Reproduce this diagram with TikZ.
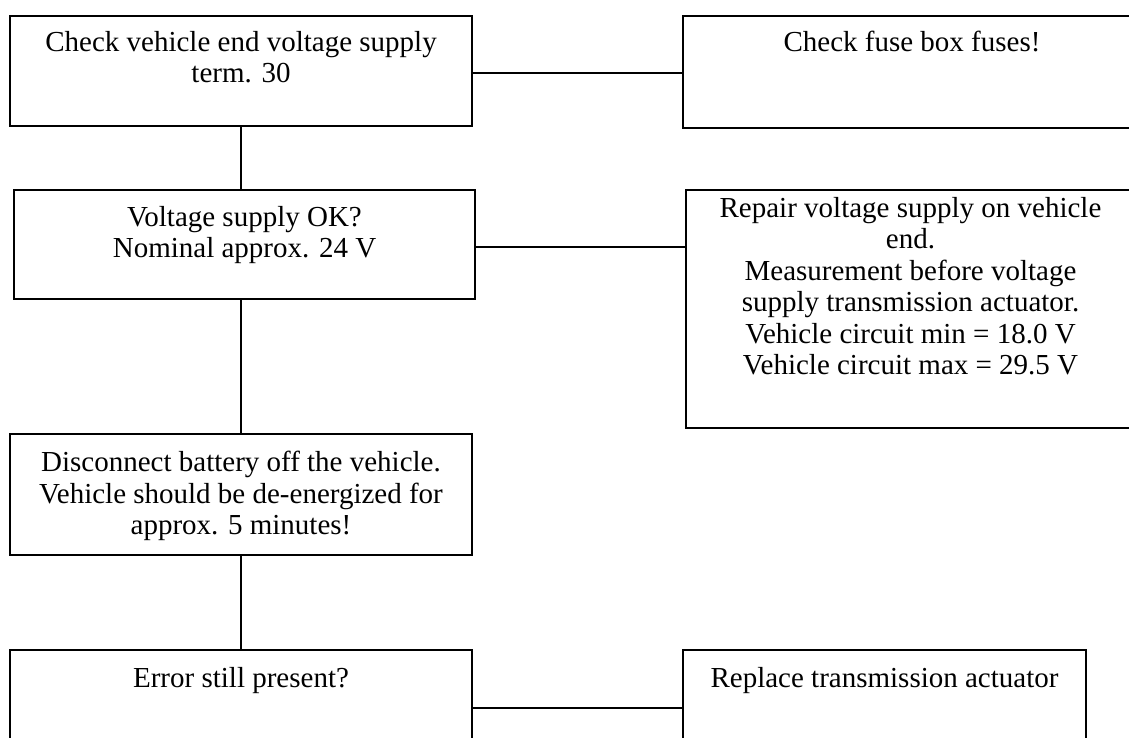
\documentclass[tikz,border=0pt]{standalone}
\usepackage{fontspec}
\setmainfont{Liberation Serif}
\begin{document}
\begin{tikzpicture}[x=1pt,y=-1pt,
  box/.style={draw=black, line width=2pt, rectangle, inner sep=0pt, anchor=north west},
  txt/.style={anchor=north, inner sep=0pt, align=center, font=\fontsize{29}{31.5}\selectfont},
  link/.style={draw=black, line width=1.6pt}]
\useasboundingbox (0,0) rectangle (1129,738);
\clip (0,0) rectangle (1129,738);
% boxes
\node[box, minimum width=462pt, minimum height=110pt] (b1) at (9,15) {};
\node[box, minimum width=458pt, minimum height=112pt] (b2) at (682,15) {};
\node[box, minimum width=461pt, minimum height=109pt] (b3) at (13,189) {};
\node[box, minimum width=449pt, minimum height=238pt] (b4) at (685,189) {};
\node[box, minimum width=462pt, minimum height=121pt] (b5) at (9,433) {};
\node[box, minimum width=462pt, minimum height=116pt] (b6) at (9,649) {};
\node[box, minimum width=403pt, minimum height=116pt] (b7) at (682,649) {};
% texts
\node[txt] (t1) at ([yshift=-16pt]b1.north) {Check vehicle end voltage supply\\term. 30};
\node[txt] (t2) at ([yshift=-16pt]b2.north) {Check fuse box fuses!};
\node[txt] (t3) at ([yshift=-17pt]b3.north) {Voltage supply OK?\\Nominal approx. 24 V};
\node[txt] (t4) at ([yshift=-8pt]b4.north) {Repair voltage supply on vehicle\\end.\\Measurement before voltage\\supply transmission actuator.\\Vehicle circuit min = 18.0 V\\Vehicle circuit max = 29.5 V};
\node[txt] (t5) at ([yshift=-18pt]b5.north) {Disconnect battery off the vehicle.\\Vehicle should be de-energized for\\approx. 5 minutes!};
\node[txt] (t6) at ([yshift=-18pt]b6.north) {Error still present?};
\node[txt] (t7) at ([yshift=-18pt]b7.north) {Replace transmission actuator};
% connectors
\draw[link] ([yshift=-2pt]b1.east) -- ([yshift=-2pt]b1.east -| b2.west);
\draw[link] (b1.south) -- (b1.south |- b3.north);
\draw[link] ([yshift=-2.5pt]b3.east) -- ([yshift=-2.5pt]b3.east -| b4.west);
\draw[link] (b1.south |- b3.south) -- (b1.south |- b5.north);
\draw[link] (b5.south) -- (b5.south |- b6.north);
\draw[link] (b6.east) -- (b6.east -| b7.west);
\end{tikzpicture}
\end{document}
